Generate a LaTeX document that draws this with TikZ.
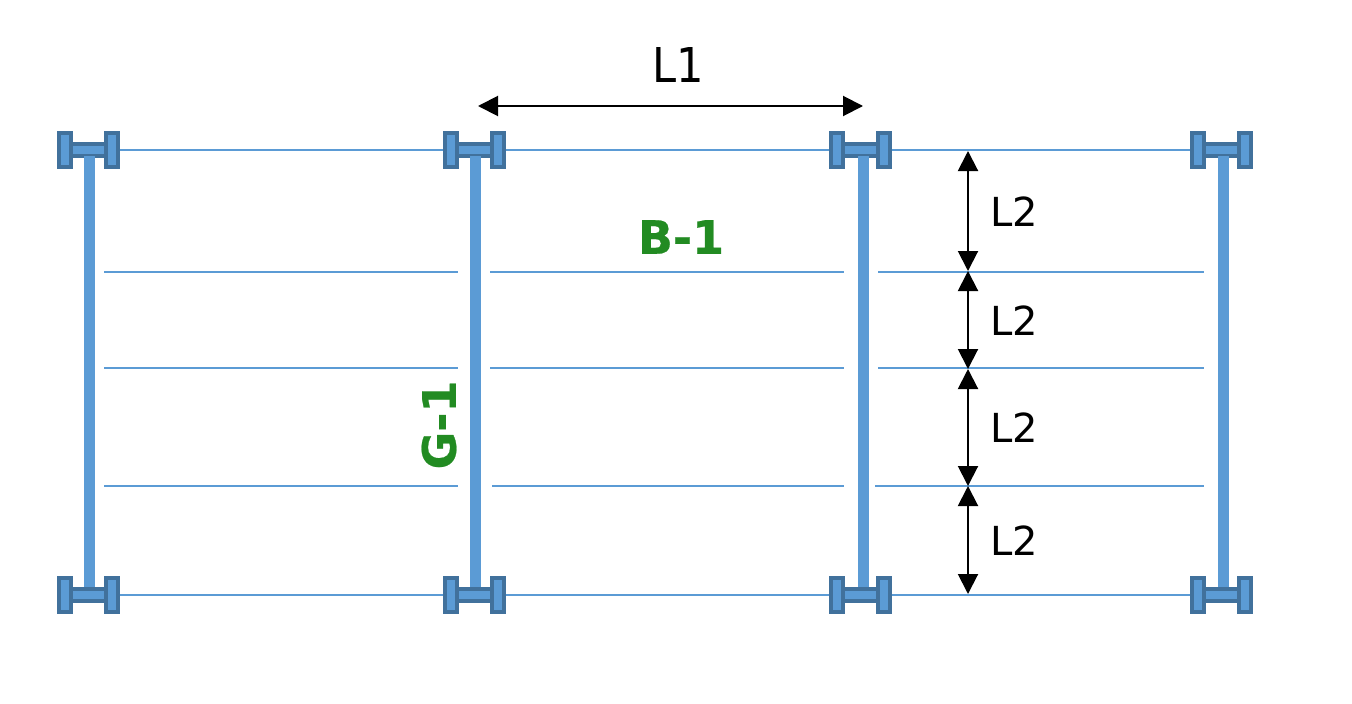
\documentclass[tikz,border=0pt]{standalone}
\usepackage{fontspec}
\setmainfont{DejaVu Sans}
\newfontfamily\membf[FakeBold=0.5]{DejaVu Sans Bold}
\usetikzlibrary{arrows.meta}
\definecolor{steel}{HTML}{5B9BD5}
\definecolor{steeldk}{HTML}{41719C}
\definecolor{lab}{HTML}{228B22}
\tikzset{
  x=1pt,y=-1pt,
  flange/.style={draw=steeldk,fill=steel,line width=4pt,minimum width=12pt,minimum height=34pt,inner sep=0pt,outer sep=0pt},
  web/.style={draw=steeldk,fill=steel,line width=4pt,minimum width=35pt,minimum height=12pt,inner sep=0pt,outer sep=0pt},
  colm/.style={draw=steel,line width=11pt},
  beam/.style={draw=steel,line width=2pt},
  mainbeam/.style={beam,shorten <=2pt,shorten >=2pt},
  dim/.style={draw=black,line width=2pt,{Triangle[length=20pt,width=20pt]}-{Triangle[length=20pt,width=20pt]}},
  dimlab/.style={inner sep=0pt,font=\fontsize{40}{40}\selectfont,text=black},
  memlab/.style={inner sep=0pt,font=\fontsize{46}{46}\membf,text=lab},
}
\begin{document}
\begin{tikzpicture}
\useasboundingbox (0,0) rectangle (1352,704);
% column and beam lines
\foreach \n/\sx/\cx in {1/88.5/89.5,2/474.5/475.5,3/860.5/863.5,4/1221.5/1223.5}{
  \coordinate (c\n) at (\cx,0);
  \node[web] (t\n) at (\sx,150) {};
  \node[web] (b\n) at (\sx,595) {};
  \node[flange] (tl\n) at (\sx-23.5,150) {};
  \node[flange] (tr\n) at (\sx+23.5,150) {};
  \node[flange] (bl\n) at (\sx-23.5,595) {};
  \node[flange] (br\n) at (\sx+23.5,595) {};
  \draw[colm] (t\n.south -| c\n) -- ([yshift=2pt]b\n.north -| c\n);
}
\foreach \a/\b in {1/2,2/3,3/4}{
  \draw[mainbeam] (tr\a.east) -- (tl\b.west);
  \draw[mainbeam] (br\a.east) -- (bl\b.west);
}
% secondary beams
\foreach \y/\xa/\xb/\xc/\xd/\xe/\xf in {272/104/458/490/844/878/1204,368/104/458/490/844/878/1204,486/104/458/492/844/875/1204}{
  \coordinate (s1) at (\xa,\y); \coordinate (e1) at (\xb,\y);
  \coordinate (s2) at (\xc,\y); \coordinate (e2) at (\xd,\y);
  \coordinate (s3) at (\xe,\y); \coordinate (e3) at (\xf,\y);
  \draw[beam] (s1) -- (e1);
  \draw[beam] (s2) -- (e2);
  \draw[beam] (s3) -- (e3);
}
% dimensions
\coordinate (h1) at (478,106); \coordinate (h2) at (863,106);
\draw[dim] (h1) -- (h2);
\coordinate (v0) at (968,151); \coordinate (v1) at (968,271);
\coordinate (v2) at (968,369); \coordinate (v3) at (968,486);
\coordinate (v4) at (968,594);
\draw[dim] (v0) -- (v1);
\draw[dim] (v1) -- (v2);
\draw[dim] (v2) -- (v3);
\draw[dim] (v3) -- (v4);
% labels
\node[inner sep=0pt,font=\fontsize{48}{48}\selectfont,xscale=0.9] (L1) at (678,65) {L1};
\node[dimlab] (L2a) at (1014,212) {L2};
\node[dimlab] (L2b) at (1014,321) {L2};
\node[dimlab] (L2c) at (1014,428) {L2};
\node[dimlab] (L2d) at (1014,541) {L2};
\node[memlab] (B1) at (681,237) {B-1};
\node[memlab,rotate=90] (G1) at (439,425) {G-1};
\end{tikzpicture}
\end{document}
